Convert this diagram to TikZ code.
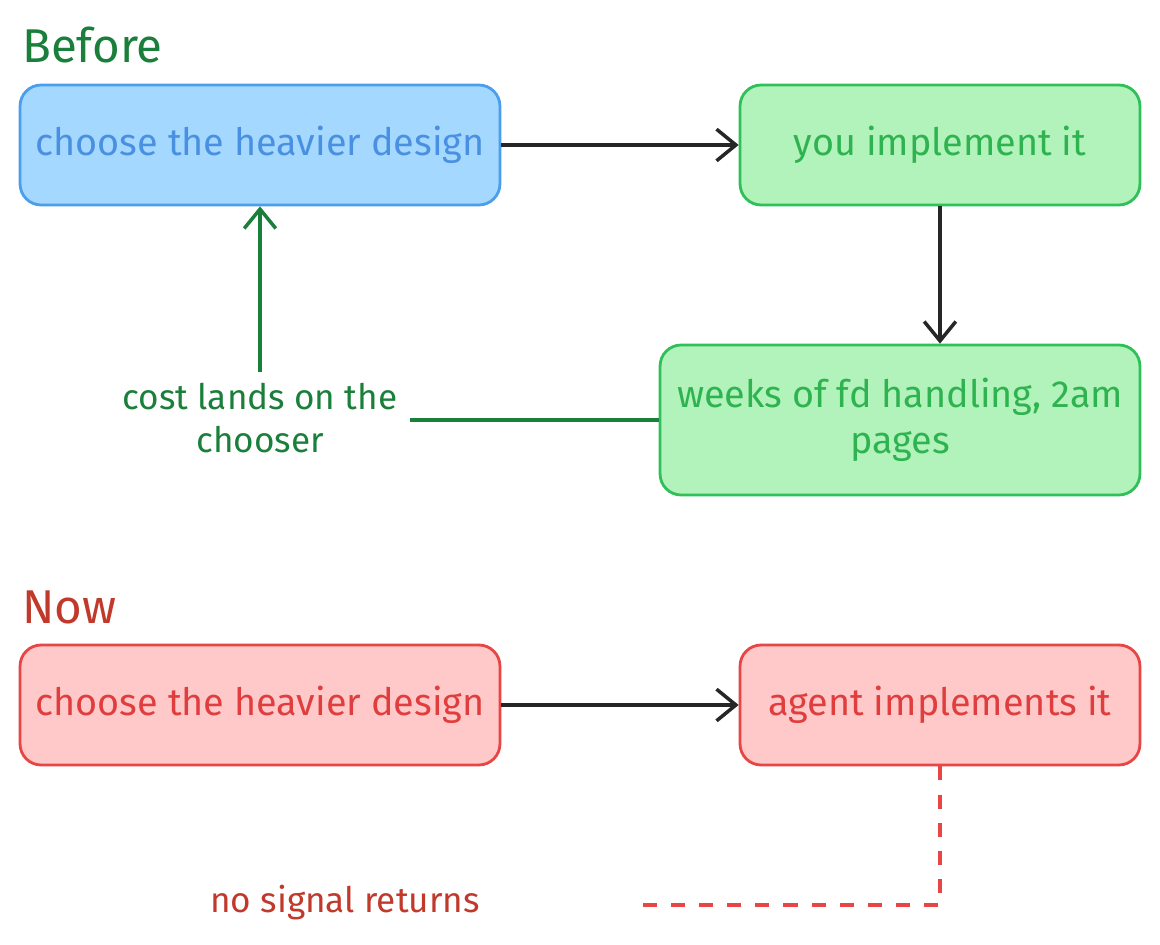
\documentclass[tikz,border=0pt]{standalone}
\usepackage{fontspec}
\setmainfont{Fira Sans}
\usetikzlibrary{positioning,arrows.meta}
\definecolor{blueedge}{HTML}{4A9EED}
\definecolor{bluefill}{HTML}{A5D8FF}
\definecolor{bluetext}{HTML}{4A90E2}
\definecolor{greenedge}{HTML}{2FC05A}
\definecolor{greenfill}{HTML}{B2F2BB}
\definecolor{greentext}{HTML}{2FB350}
\definecolor{darkgreen}{HTML}{1A7F3A}
\definecolor{rededge}{HTML}{E84545}
\definecolor{redfill}{HTML}{FFC9C9}
\definecolor{redtext}{HTML}{E03E3E}
\definecolor{darkred}{HTML}{C0392B}
\begin{document}
\begin{tikzpicture}[x=0.02cm, y=-0.02cm,
		box/.style ={rectangle, rounded corners=12pt, line width=1.6pt, align=center,
			font=\fontsize{21.5}{26}\selectfont, inner sep=0pt},
		bluebox/.style ={box, draw=blueedge, fill=bluefill, text=bluetext},
		greenbox/.style ={box, draw=greenedge, fill=greenfill, text=greentext},
		redbox/.style ={box, draw=rededge, fill=redfill, text=redtext},
		head/.style ={font=\fontsize{27}{32}\selectfont, anchor=west},
		note/.style ={font=\fontsize{20}{24}\selectfont, align=center},
		barb/.style ={-{Straight Barb[length=11pt, width=18pt, line width=2pt]}},
		flow/.style ={draw=black!85, line width=2.2pt, barb}]
		\useasboundingbox (0,0) rectangle (1160,945);
		\node[head, text=darkgreen] (before) at (16,45) {Before};
		\node[head, text=darkred] (now) at (16,607) {Now};
		\node[bluebox, minimum width=9.6cm, minimum height=2.4cm] (choose) at (260,145) {choose the heavier design};
		\node[greenbox, minimum width=8cm, minimum height=2.4cm] (you) at (940,145) {you implement it};
		\node[greenbox, minimum width=9.6cm, minimum height=3cm] (weeks) at (900,420) {weeks of fd handling, 2am\\pages};
		\node[note, text=darkgreen] (cost) at (260,418) {cost lands on the\\chooser};
		\coordinate (costend) at (410,420);
		\node[redbox, minimum width=9.6cm, minimum height=2.4cm] (choose2) at (260,705) {choose the heavier design};
		\node[redbox, minimum width=8cm, minimum height=2.4cm] (agent) at (940,705) {agent implements it};
		\node[note, text=darkred] (signal) at (345,903) {no signal returns};
		\coordinate (dashend) at (635,905);
		\draw[flow] (choose) -- (you);
		\draw[flow] (you) -- (weeks.north -| you);
		\draw[darkgreen, line width=2.4pt] (weeks.west |- costend) -- (costend);
		\draw[darkgreen, line width=2.4pt, barb] (cost.north) ++(0,-5) -- (choose.south);
		\draw[flow] (choose2) -- (agent);
		\draw[rededge, line width=2pt, dash pattern=on 8pt off 8pt] (agent.south) |- (dashend);
	\end{tikzpicture}
\end{document}
